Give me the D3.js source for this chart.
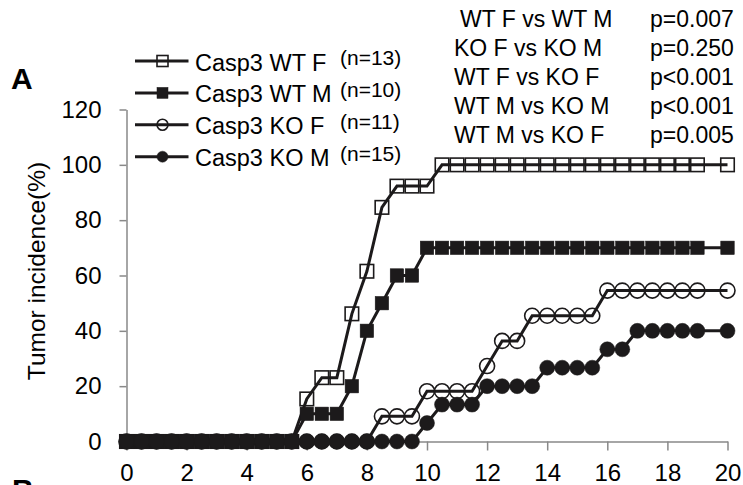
<!DOCTYPE html>
<html lang="en">
<head>
    <meta charset="UTF-8">
    <title>Tumor incidence</title>
    <style>
        body { margin: 0; background: #fff; }
        svg { display: block; font-family: "Liberation Sans", Arial, sans-serif; }
    </style>
</head>
<body>
<svg width="743" height="485"></svg>
<script src="https://d3js.org/d3.v7.min.js"></script>
<script>
    // weeks on the x axis (last point jumps from 19 to 20)
    var weeks = [0, 0.5, 1, 1.5, 2, 2.5, 3, 3.5, 4, 4.5, 5, 5.5, 6, 6.5, 7, 7.5, 8, 8.5, 9, 9.5,
        10, 10.5, 11, 11.5, 12, 12.5, 13, 13.5, 14, 14.5, 15, 15.5, 16, 16.5, 17, 17.5, 18, 18.5, 19, 20];

    var wtF = [0, 0, 0, 0, 0, 0, 0, 0, 0, 0, 0, 0, 15.38, 23.08, 23.08, 46.15, 61.54, 84.62, 92.31, 92.31,
        92.31, 100, 100, 100, 100, 100, 100, 100, 100, 100, 100, 100, 100, 100, 100, 100, 100, 100, 100, 100];
    var wtM = [0, 0, 0, 0, 0, 0, 0, 0, 0, 0, 0, 0, 10, 10, 10, 20, 40, 50, 60, 60,
        70, 70, 70, 70, 70, 70, 70, 70, 70, 70, 70, 70, 70, 70, 70, 70, 70, 70, 70, 70];
    var koF = [0, 0, 0, 0, 0, 0, 0, 0, 0, 0, 0, 0, 0, 0, 0, 0, 0, 9.09, 9.09, 9.09,
        18.18, 18.18, 18.18, 18.18, 27.27, 36.36, 36.36, 45.45, 45.45, 45.45, 45.45, 45.45, 54.55, 54.55, 54.55, 54.55, 54.55, 54.55, 54.55, 54.55];
    var koM = [0, 0, 0, 0, 0, 0, 0, 0, 0, 0, 0, 0, 0, 0, 0, 0, 0, 0, 0, 0,
        6.67, 13.33, 13.33, 13.33, 20, 20, 20, 20, 26.67, 26.67, 26.67, 26.67, 33.33, 33.33, 40, 40, 40, 40, 40, 40];

    var seriesNames = ["Casp3 WT F", "Casp3 WT M", "Casp3 KO F", "Casp3 KO M"];
    var seriesN = ["(n=13)", "(n=10)", "(n=11)", "(n=15)"];
    var xTicks = [0, 2, 4, 6, 8, 10, 12, 14, 16, 18, 20];
    var yTicks = [0, 20, 40, 60, 80, 100, 120];

    var comparisons = ["WT F vs WT M", "KO F vs KO M", "WT F vs KO F", "WT M vs KO M", "WT M vs KO F"];
    var pValues = ["p=0.007", "p=0.250", "p<0.001", "p<0.001", "p=0.005"];

    var series = [
        {name: seriesNames[0], n: seriesN[0], values: wtF, shape: "square", filled: false},
        {name: seriesNames[1], n: seriesN[1], values: wtM, shape: "square", filled: true},
        {name: seriesNames[2], n: seriesN[2], values: koF, shape: "circle", filled: false},
        {name: seriesNames[3], n: seriesN[3], values: koM, shape: "circle", filled: true}
    ];

    var ink = "#1c1a1b";
    var axisGray = "#898989";

    var svg = d3.select("svg");

    var x = d3.scaleLinear().domain([0, 20]).range([126.5, 727.5]);
    var y = d3.scaleLinear().domain([0, 120]).range([441.5, 109.5]);

    // axes
    var xAxis = svg.append("g")
        .attr("transform", "translate(0," + y(0) + ")")
        .call(d3.axisBottom(x).tickValues(xTicks).tickSize(9).tickSizeOuter(0).tickPadding(13.5));
    var yAxis = svg.append("g")
        .attr("transform", "translate(" + x(0) + ",0)")
        .call(d3.axisLeft(y).tickValues(yTicks).tickSize(7).tickSizeOuter(0).tickPadding(18));

    [xAxis, yAxis].forEach(function(a) {
        a.selectAll("path, line").attr("stroke", axisGray).attr("stroke-width", 1.5);
        a.selectAll("text").attr("fill", "#000").style("font-size", "24px");
    });

    svg.append("text")
        .attr("transform", "translate(45,271) rotate(-90)")
        .attr("text-anchor", "middle")
        .style("font-size", "24.5px")
        .text("Tumor incidence(%)");

    var line = d3.line()
        .x(function(d, i) { return x(weeks[i]); })
        .y(function(d) { return y(d); });

    function drawMarker(sel, s, size) {
        if (s.shape === "square") {
            sel.append("rect")
                .attr("x", -size / 2).attr("y", -size / 2)
                .attr("width", size).attr("height", size);
        } else {
            sel.append("circle").attr("r", size / 2);
        }
        sel.selectAll("rect, circle")
            .attr("fill", s.filled ? ink : "none")
            .attr("stroke", ink)
            .attr("stroke-width", s.filled ? 0.5 : 1.6);
    }

    series.forEach(function(s) {
        var g = svg.append("g");
        g.append("path")
            .attr("d", line(s.values))
            .attr("fill", "none")
            .attr("stroke", ink)
            .attr("stroke-width", 3);
        g.selectAll("g.mk")
            .data(s.values)
            .enter().append("g")
            .attr("class", "mk")
            .attr("transform", function(d, i) { return "translate(" + x(weeks[i]) + "," + y(d) + ")"; })
            .each(function() { drawMarker(d3.select(this), s, s.shape === "square" ? 13.5 : 15); });
    });

    // legend
    var legend = svg.append("g");
    series.forEach(function(s, i) {
        var ly = 61 + i * 31.9;
        var row = legend.append("g").attr("transform", "translate(0," + ly + ")");
        row.append("line")
            .attr("x1", 135).attr("x2", 188.5)
            .attr("stroke", ink).attr("stroke-width", 3);
        var mk = row.append("g").attr("transform", "translate(162.5,0)");
        drawMarker(mk, s, 11);
        row.append("text")
            .attr("x", 195).attr("y", 9.5)
            .style("font-size", "23.5px")
            .text(s.name);
        row.append("text")
            .attr("x", 340).attr("y", 4)
            .style("font-size", "21px")
            .text(s.n);
    });

    // p-value table
    comparisons.forEach(function(c, i) {
        var ty = 27 + i * 29.1;
        svg.append("text")
            .attr("x", i === 0 ? 460 : 454).attr("y", ty)
            .style("font-size", "23px")
            .text(c);
        svg.append("text")
            .attr("x", 650).attr("y", ty)
            .style("font-size", "23px")
            .text(pValues[i]);
    });

    // panel letters
    svg.append("text")
        .attr("x", 11).attr("y", 88.5)
        .style("font-size", "30px").style("font-weight", "bold")
        .text("A");
    svg.append("text")
        .attr("x", 12).attr("y", 499.5)
        .style("font-size", "30px").style("font-weight", "bold")
        .text("B");
</script>
</body>
</html>
